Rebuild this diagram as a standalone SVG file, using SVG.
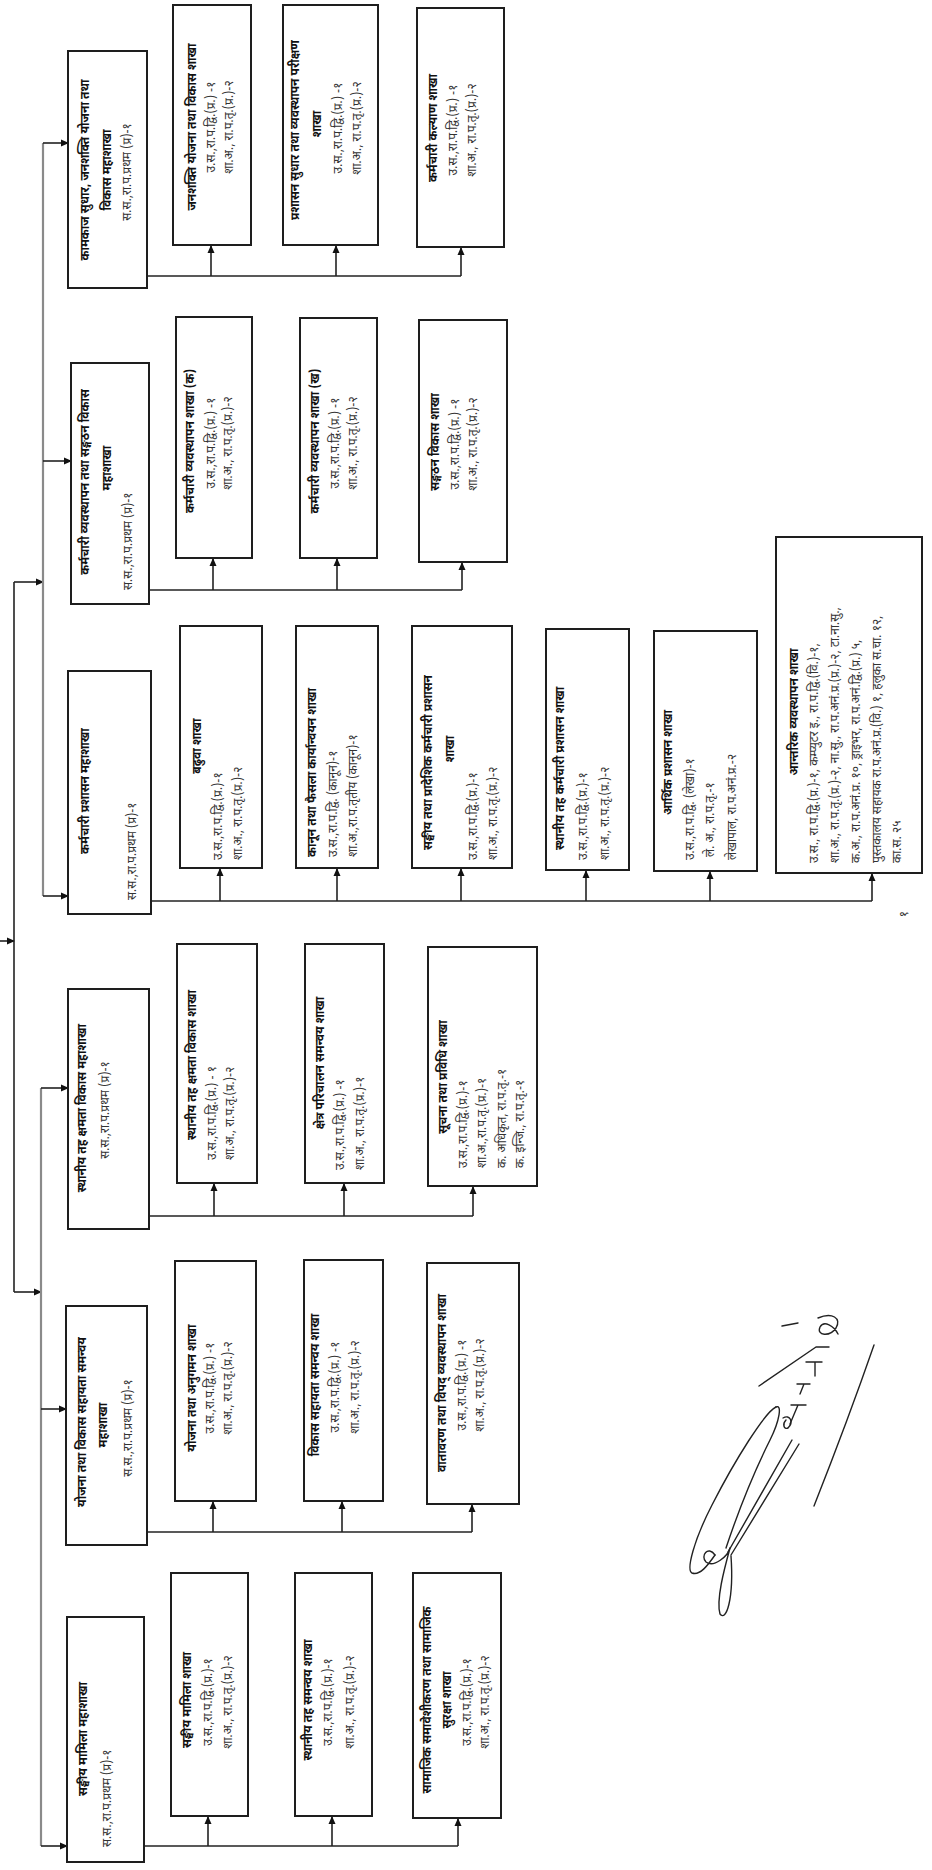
<svg xmlns="http://www.w3.org/2000/svg" width="932" height="1870" viewBox="0 0 932 1870">
<style>
.box{fill:#fff;stroke:#1e1e1e;stroke-width:2}
.t{font-family:'Noto Sans Devanagari','Noto Sans','Lohit Devanagari','FreeSans',sans-serif;font-size:12px;fill:#333}
.ti{fill:#111;font-weight:bold}
.m{text-anchor:middle}
.s{text-anchor:start}
.c{fill:none;stroke:#222;stroke-width:1.6}
.g{fill:none;stroke:#8a8a8a;stroke-width:2.2}
.sig{fill:none;stroke:#222;stroke-width:1.4;stroke-linecap:round;stroke-linejoin:round}
</style>
<defs>
<marker id="ah" markerUnits="userSpaceOnUse" markerWidth="8" markerHeight="8" refX="7" refY="4" orient="auto">
<path d="M0,0.5 L8,4 L0,7.5 z" fill="#111"/>
</marker>
</defs>
<rect width="932" height="1870" fill="#fff"/>

<g id="connectors">
<path class="c" d="M0,941 H14" marker-end="url(#ah)"/>
<path class="c" d="M14,582 V1292"/>
<path class="c" d="M14,582 H43" marker-end="url(#ah)"/>
<path class="c" d="M14,1292 H41" marker-end="url(#ah)"/>
<path class="g" d="M43,143 V896"/>
<path class="g" d="M41,1088 V1846"/>
<path class="c" d="M43,143 H68" marker-end="url(#ah)"/>
<path class="c" d="M43,461 H71" marker-end="url(#ah)"/>
<path class="c" d="M43,896 H68" marker-end="url(#ah)"/>
<path class="c" d="M41,1088 H68" marker-end="url(#ah)"/>
<path class="c" d="M41,1409 H66" marker-end="url(#ah)"/>
<path class="c" d="M41,1846 H67" marker-end="url(#ah)"/>
<path class="c" d="M147,276 H461"/>
<path class="c" d="M211,276 V246" marker-end="url(#ah)"/>
<path class="c" d="M336,276 V246" marker-end="url(#ah)"/>
<path class="c" d="M461,276 V248" marker-end="url(#ah)"/>
<path class="c" d="M149,590 H462"/>
<path class="c" d="M213,590 V559" marker-end="url(#ah)"/>
<path class="c" d="M337,590 V559" marker-end="url(#ah)"/>
<path class="c" d="M462,590 V563" marker-end="url(#ah)"/>
<path class="c" d="M151,901 H872"/>
<path class="c" d="M220,901 V869" marker-end="url(#ah)"/>
<path class="c" d="M337,901 V869" marker-end="url(#ah)"/>
<path class="c" d="M461,901 V869" marker-end="url(#ah)"/>
<path class="c" d="M586,901 V871" marker-end="url(#ah)"/>
<path class="c" d="M710,901 V872" marker-end="url(#ah)"/>
<path class="c" d="M872,901 V874" marker-end="url(#ah)"/>
<path class="c" d="M149,1216 H473"/>
<path class="c" d="M214,1216 V1184" marker-end="url(#ah)"/>
<path class="c" d="M344,1216 V1184" marker-end="url(#ah)"/>
<path class="c" d="M473,1216 V1187" marker-end="url(#ah)"/>
<path class="c" d="M147,1532 H472"/>
<path class="c" d="M213,1532 V1502" marker-end="url(#ah)"/>
<path class="c" d="M342,1532 V1502" marker-end="url(#ah)"/>
<path class="c" d="M472,1532 V1505" marker-end="url(#ah)"/>
<path class="c" d="M144,1846 H458"/>
<path class="c" d="M208,1846 V1817" marker-end="url(#ah)"/>
<path class="c" d="M332,1846 V1817" marker-end="url(#ah)"/>
<path class="c" d="M458,1846 V1819" marker-end="url(#ah)"/>
</g>

<g id="d1">
<rect class="box" x="68" y="51" width="79" height="237"/>
<text class="t ti m" x="89" y="170" transform="rotate(-90 89 170)">कामकाज सुधार, जनशक्ति योजना तथा</text>
<text class="t ti m" x="111" y="170" transform="rotate(-90 111 170)">विकास महाशाखा</text>
<text class="t m" x="131" y="172" transform="rotate(-90 131 172)">स.स.,रा.प.प्रथम (प्र)-१</text>
</g>
<g id="b11">
<rect class="box" x="173" y="5" width="78" height="240"/>
<text class="t ti m" x="196" y="127" transform="rotate(-90 196 127)">जनशक्ति योजना तथा विकास शाखा</text>
<text class="t m" x="215" y="127" transform="rotate(-90 215 127)">उ.स.,रा.प.द्वि.(प्र.) -१</text>
<text class="t m" x="233" y="127" transform="rotate(-90 233 127)">शा.अ., रा.प.तृ.(प्र.)-२</text>
</g>
<g id="b12">
<rect class="box" x="283" y="5" width="95" height="240"/>
<text class="t ti m" x="299" y="130" transform="rotate(-90 299 130)">प्रशासन सुधार तथा व्यवस्थापन परीक्षण</text>
<text class="t ti m" x="321" y="124" transform="rotate(-90 321 124)">शाखा</text>
<text class="t m" x="342" y="128" transform="rotate(-90 342 128)">उ.स.,रा.प.द्वि.(प्र.) -१</text>
<text class="t m" x="361" y="128" transform="rotate(-90 361 128)">शा.अ., रा.प.तृ.(प्र.)-२</text>
</g>
<g id="b13">
<rect class="box" x="417" y="8" width="87" height="239"/>
<text class="t ti m" x="437" y="128" transform="rotate(-90 437 128)">कर्मचारी कल्याण शाखा</text>
<text class="t m" x="457" y="130" transform="rotate(-90 457 130)">उ.स.,रा.प.द्वि.(प्र.) -१</text>
<text class="t m" x="476" y="130" transform="rotate(-90 476 130)">शा.अ., रा.प.तृ.(प्र.)-२</text>
</g>

<g id="d2">
<rect class="box" x="71" y="363" width="78" height="241"/>
<text class="t ti m" x="89" y="482" transform="rotate(-90 89 482)">कर्मचारी व्यवस्थापन तथा सङ्गठन विकास</text>
<text class="t ti m" x="111" y="468" transform="rotate(-90 111 468)">महाशाखा</text>
<text class="t s" x="132" y="590" transform="rotate(-90 132 590)">स.स.,रा.प.प्रथम (प्र)-१</text>
</g>
<g id="b21">
<rect class="box" x="176" y="317" width="76" height="241"/>
<text class="t ti m" x="194" y="441" transform="rotate(-90 194 441)">कर्मचारी व्यवस्थापन शाखा (क)</text>
<text class="t m" x="215" y="443" transform="rotate(-90 215 443)">उ.स.,रा.प.द्वि.(प्र.) -१</text>
<text class="t m" x="232" y="443" transform="rotate(-90 232 443)">शा.अ., रा.प.तृ.(प्र.)-२</text>
</g>
<g id="b22">
<rect class="box" x="300" y="318" width="77" height="240"/>
<text class="t ti m" x="319" y="441" transform="rotate(-90 319 441)">कर्मचारी व्यवस्थापन शाखा (ख)</text>
<text class="t m" x="339" y="443" transform="rotate(-90 339 443)">उ.स.,रा.प.द्वि.(प्र.) -१</text>
<text class="t m" x="357" y="443" transform="rotate(-90 357 443)">शा.अ., रा.प.तृ.(प्र.)-२</text>
</g>
<g id="b23">
<rect class="box" x="419" y="320" width="88" height="242"/>
<text class="t ti m" x="439" y="442" transform="rotate(-90 439 442)">सङ्गठन विकास शाखा</text>
<text class="t m" x="459" y="444" transform="rotate(-90 459 444)">उ.स.,रा.प.द्वि.(प्र.) -१</text>
<text class="t m" x="477" y="444" transform="rotate(-90 477 444)">शा.अ., रा.प.तृ.(प्र.)-२</text>
</g>

<g id="d3">
<rect class="box" x="68" y="671" width="83" height="243"/>
<text class="t ti m" x="89" y="791" transform="rotate(-90 89 791)">कर्मचारी प्रशासन महाशाखा</text>
<text class="t s" x="136" y="900" transform="rotate(-90 136 900)">स.स.,रा.प.प्रथम (प्र)-१</text>
</g>
<g id="b31">
<rect class="box" x="180" y="626" width="82" height="242"/>
<text class="t ti m" x="201" y="746" transform="rotate(-90 201 746)">बढुवा शाखा</text>
<text class="t s" x="222" y="860" transform="rotate(-90 222 860)">उ.स.,रा.प.द्वि.(प्र.)-१</text>
<text class="t s" x="242" y="860" transform="rotate(-90 242 860)">शा.अ., रा.प.तृ.(प्र.)-२</text>
</g>
<g id="b32">
<rect class="box" x="296" y="626" width="82" height="242"/>
<text class="t ti s" x="316" y="857" transform="rotate(-90 316 857)">कानून तथा फैसला कार्यान्वयन शाखा</text>
<text class="t s" x="337" y="857" transform="rotate(-90 337 857)">उ.स.,रा.प.द्वि. (कानून)-१</text>
<text class="t s" x="357" y="857" transform="rotate(-90 357 857)">शा.अ.,रा.प.तृतीय (कानून)-१</text>
</g>
<g id="b33">
<rect class="box" x="412" y="626" width="100" height="242"/>
<text class="t ti s" x="432" y="850" transform="rotate(-90 432 850)">सङ्घीय तथा प्रादेशिक कर्मचारी प्रशासन</text>
<text class="t ti m" x="454" y="749" transform="rotate(-90 454 749)">शाखा</text>
<text class="t s" x="477" y="860" transform="rotate(-90 477 860)">उ.स.,रा.प.द्वि.(प्र.)-१</text>
<text class="t s" x="497" y="860" transform="rotate(-90 497 860)">शा.अ., रा.प.तृ.(प्र.)-२</text>
</g>
<g id="b34">
<rect class="box" x="546" y="629" width="83" height="241"/>
<text class="t ti s" x="564" y="850" transform="rotate(-90 564 850)">स्थानीय तह कर्मचारी प्रशासन शाखा</text>
<text class="t s" x="587" y="860" transform="rotate(-90 587 860)">उ.स.,रा.प.द्वि.(प्र.)-१</text>
<text class="t s" x="609" y="860" transform="rotate(-90 609 860)">शा.अ., रा.प.तृ.(प्र.)-२</text>
</g>
<g id="b35">
<rect class="box" x="654" y="631" width="103" height="240"/>
<text class="t ti s" x="672" y="815" transform="rotate(-90 672 815)">आर्थिक प्रशासन शाखा</text>
<text class="t s" x="694" y="860" transform="rotate(-90 694 860)">उ.स.,रा.प.द्वि. (लेखा)-१</text>
<text class="t s" x="714" y="857" transform="rotate(-90 714 857)">ले. अ., रा.प.तृ.-१</text>
<text class="t s" x="736" y="860" transform="rotate(-90 736 860)">लेखापाल, रा.प.अनं.प्र.-२</text>
</g>
<g id="b36">
<rect class="box" x="776" y="537" width="146" height="336"/>
<text class="t ti m" x="798" y="712" transform="rotate(-90 798 712)">आन्तरिक व्यवस्थापन शाखा</text>
<text class="t s" x="818" y="863" transform="rotate(-90 818 863)">उ.स., रा.प.द्वि.(प्र.)-१, कम्प्युटर इ., रा.प.द्वि.(वि.)-१,</text>
<text class="t s" x="839" y="863" transform="rotate(-90 839 863)">शा.अ., रा.प.तृ.(प्र.)-२, ना.सु., रा.प.अनं.प्र.(प्र.)-२, टा.ना.सु.,</text>
<text class="t s" x="860" y="863" transform="rotate(-90 860 863)">क.अ., रा.प.अनं.प्र. १०, ड्राइभर, रा.प.अनं.द्वि.(प्र.) ५,</text>
<text class="t s" x="881" y="863" transform="rotate(-90 881 863)">पुस्तकालय सहायक रा.प.अनं.प्र.(वि.) १, हलुका स.चा. १२,</text>
<text class="t s" x="901" y="863" transform="rotate(-90 901 863)">का.स. २५</text>
</g>

<g id="d4">
<rect class="box" x="68" y="989" width="81" height="240"/>
<text class="t ti m" x="86" y="1108" transform="rotate(-90 86 1108)">स्थानीय तह क्षमता विकास महाशाखा</text>
<text class="t m" x="109" y="1110" transform="rotate(-90 109 1110)">स.स.,रा.प.प्रथम (प्र)-१</text>
</g>
<g id="b41">
<rect class="box" x="177" y="944" width="80" height="239"/>
<text class="t ti m" x="196" y="1065" transform="rotate(-90 196 1065)">स्थानीय तह क्षमता विकास शाखा</text>
<text class="t s" x="216" y="1160" transform="rotate(-90 216 1160)">उ.स.,रा.प.द्वि.(प्र.) - १</text>
<text class="t s" x="234" y="1160" transform="rotate(-90 234 1160)">शा.अ., रा.प.तृ.(प्र.)-२</text>
</g>
<g id="b42">
<rect class="box" x="305" y="944" width="79" height="239"/>
<text class="t ti m" x="324" y="1063" transform="rotate(-90 324 1063)">क्षेत्र परिचालन समन्वय शाखा</text>
<text class="t s" x="344" y="1170" transform="rotate(-90 344 1170)">उ.स.,रा.प.द्वि.(प्र.) -१</text>
<text class="t s" x="364" y="1170" transform="rotate(-90 364 1170)">शा.अ., रा.प.तृ.(प्र.)-१</text>
</g>
<g id="b43">
<rect class="box" x="428" y="947" width="109" height="239"/>
<text class="t ti m" x="447" y="1077" transform="rotate(-90 447 1077)">सूचना तथा प्रविधि शाखा</text>
<text class="t s" x="467" y="1168" transform="rotate(-90 467 1168)">उ.स.,रा.प.द्वि.(प्र.)-१</text>
<text class="t s" x="486" y="1168" transform="rotate(-90 486 1168)">शा.अ.,रा.प.तृ.(प्र.)-१</text>
<text class="t s" x="506" y="1168" transform="rotate(-90 506 1168)">क. अधिकृत, रा.प.तृ.-१</text>
<text class="t s" x="524" y="1168" transform="rotate(-90 524 1168)">क. इन्जि., रा.प.तृ.-१</text>
</g>

<g id="d5">
<rect class="box" x="66" y="1306" width="81" height="239"/>
<text class="t ti m" x="86" y="1422" transform="rotate(-90 86 1422)">योजना तथा विकास सहायता समन्वय</text>
<text class="t ti m" x="107" y="1425" transform="rotate(-90 107 1425)">महाशाखा</text>
<text class="t m" x="132" y="1428" transform="rotate(-90 132 1428)">स.स.,रा.प.प्रथम (प्र)-१</text>
</g>
<g id="b51">
<rect class="box" x="175" y="1261" width="81" height="240"/>
<text class="t ti m" x="196" y="1388" transform="rotate(-90 196 1388)">योजना तथा अनुगमन शाखा</text>
<text class="t m" x="214" y="1388" transform="rotate(-90 214 1388)">उ.स.,रा.प.द्वि.(प्र.) -१</text>
<text class="t m" x="232" y="1388" transform="rotate(-90 232 1388)">शा.अ., रा.प.तृ.(प्र.)-२</text>
</g>
<g id="b52">
<rect class="box" x="304" y="1260" width="79" height="241"/>
<text class="t ti m" x="319" y="1385" transform="rotate(-90 319 1385)">विकास सहायता समन्वय शाखा</text>
<text class="t m" x="339" y="1387" transform="rotate(-90 339 1387)">उ.स.,रा.प.द्वि.(प्र.) -१</text>
<text class="t m" x="359" y="1387" transform="rotate(-90 359 1387)">शा.अ., रा.प.तृ.(प्र.)-२</text>
</g>
<g id="b53">
<rect class="box" x="427" y="1263" width="92" height="241"/>
<text class="t ti m" x="446" y="1383" transform="rotate(-90 446 1383)">वातावरण तथा विपद् व्यवस्थापन शाखा</text>
<text class="t m" x="466" y="1385" transform="rotate(-90 466 1385)">उ.स.,रा.प.द्वि.(प्र.) -१</text>
<text class="t m" x="484" y="1385" transform="rotate(-90 484 1385)">शा.अ., रा.प.तृ.(प्र.)-२</text>
</g>

<g id="d6">
<rect class="box" x="67" y="1617" width="77" height="245"/>
<text class="t ti m" x="87" y="1739" transform="rotate(-90 87 1739)">सङ्घीय मामिला महाशाखा</text>
<text class="t s" x="111" y="1847" transform="rotate(-90 111 1847)">स.स.,रा.प.प्रथम (प्र)-१</text>
</g>
<g id="b61">
<rect class="box" x="171" y="1573" width="77" height="243"/>
<text class="t ti m" x="191" y="1700" transform="rotate(-90 191 1700)">सङ्घीय मामिला शाखा</text>
<text class="t m" x="212" y="1702" transform="rotate(-90 212 1702)">उ.स.,रा.प.द्वि.(प्र.)-१</text>
<text class="t m" x="232" y="1702" transform="rotate(-90 232 1702)">शा.अ., रा.प.तृ.(प्र.)-२</text>
</g>
<g id="b62">
<rect class="box" x="295" y="1573" width="77" height="243"/>
<text class="t ti m" x="312" y="1700" transform="rotate(-90 312 1700)">स्थानीय तह समन्वय शाखा</text>
<text class="t m" x="332" y="1702" transform="rotate(-90 332 1702)">उ.स.,रा.प.द्वि.(प्र.)-१</text>
<text class="t m" x="354" y="1702" transform="rotate(-90 354 1702)">शा.अ., रा.प.तृ.(प्र.)-२</text>
</g>
<g id="b63">
<rect class="box" x="413" y="1573" width="88" height="245"/>
<text class="t ti m" x="431" y="1700" transform="rotate(-90 431 1700)">सामाजिक समावेशीकरण तथा सामाजिक</text>
<text class="t ti m" x="451" y="1700" transform="rotate(-90 451 1700)">सुरक्षा शाखा</text>
<text class="t m" x="471" y="1702" transform="rotate(-90 471 1702)">उ.स.,रा.प.द्वि.(प्र.)-१</text>
<text class="t m" x="489" y="1702" transform="rotate(-90 489 1702)">शा.अ., रा.प.तृ.(प्र.)-२</text>
</g>

<text class="t m" x="908" y="914" transform="rotate(-90 908 914)">१</text>

<g id="signature">
<path class="sig" d="M874,1345 Q848,1420 814,1506"/>
<path class="sig" d="M776,1407 C765,1412 735,1460 712,1505 C694,1540 686,1570 692,1573 C700,1576 708,1565 715,1555"/>
<path class="sig" d="M776,1407 C782,1404 780,1420 770,1440 C755,1470 738,1512 726,1548"/>
<path class="sig" d="M799,1444 L731,1555 M792,1440 L728,1552"/>
<path class="sig" d="M715,1555 C708,1545 700,1556 706,1562 C714,1568 728,1556 730,1548 C724,1570 716,1600 720,1614 C726,1622 734,1600 731,1556"/>
<path class="sig" d="M782,1326 L798,1323"/>
<path class="sig" d="M818,1318 C832,1312 842,1318 836,1328 C830,1337 816,1336 820,1327 C824,1320 834,1326 838,1334"/>
<path class="sig" d="M759,1386 L816,1347 L829,1347"/>
<path class="sig" d="M806,1362 L822,1362 M815,1362 L815,1376"/>
<path class="sig" d="M797,1384 L810,1384 M804,1384 L800,1394"/>
<path class="sig" d="M791,1405 L806,1405 M798,1405 L790,1424"/>
<path class="sig" d="M783,1418 C790,1414 794,1422 788,1428 C784,1430 782,1424 786,1420"/>
</g>
</svg>
